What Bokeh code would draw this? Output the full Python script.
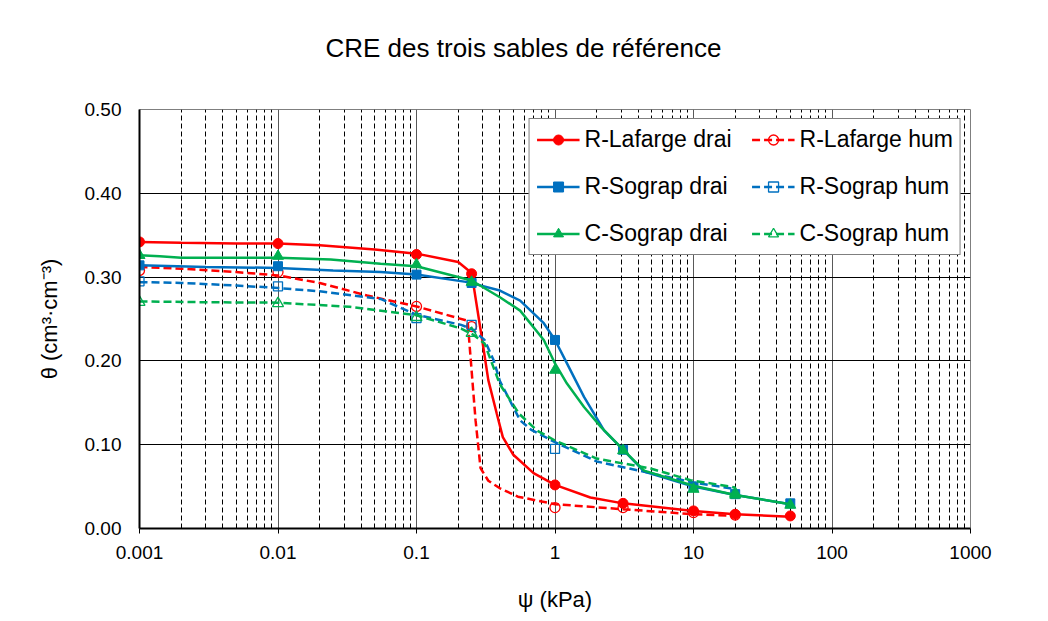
from bokeh.plotting import figure
from bokeh.models import (FixedTicker, CustomJSTickFormatter, PrintfTickFormatter,
                          Legend, LegendItem, Range1d)
from bokeh.embed import file_html
from bokeh.resources import INLINE

FONT = "Liberation Sans"

# ---------------- data ----------------
title_text = "CRE des trois sables de référence"
x_label = "ψ (kPa)"
y_label = "θ (cm³·cm⁻³)"
x_major = [0.001, 0.01, 0.1, 1, 10, 100, 1000]
y_major = [0.0, 0.1, 0.2, 0.3, 0.4, 0.5]

# measured points (markers)
mx_drai = [0.001, 0.01, 0.1, 0.25, 1, 3.1, 10, 20, 50]
laf_drai_m = [0.342, 0.340, 0.327, 0.304, 0.052, 0.030, 0.021, 0.017, 0.015]
sog_drai_m = [0.314, 0.313, 0.303, 0.293, 0.225, 0.094, 0.050, 0.041, 0.030]
csog_drai_m = [0.326, 0.325, 0.315, 0.294, 0.189, 0.093, 0.047, 0.040, 0.028]

laf_hum_mx = [0.001, 0.01, 0.1, 0.25, 1, 3.1, 10, 20]
laf_hum_m = [0.308, 0.306, 0.265, 0.241, 0.025, 0.025, 0.019, 0.016]
sog_hum_mx = [0.001, 0.01, 0.1, 0.25, 1]
sog_hum_m = [0.295, 0.289, 0.251, 0.243, 0.095]
csog_hum_mx = [0.001, 0.01, 0.1, 0.25, 20]
csog_hum_m = [0.270, 0.2685, 0.252, 0.233, 0.042]

# curves
laf_drai_lx = [0.001, 0.002, 0.005, 0.01, 0.02, 0.05, 0.1, 0.2, 0.25, 0.3, 0.33, 0.38, 0.42,
               0.5, 0.7, 1.0, 1.8, 3.1, 10, 20, 50]
laf_drai_ly = [0.342, 0.341, 0.340, 0.340, 0.338, 0.333, 0.328, 0.318, 0.305, 0.222, 0.177, 0.137,
               0.109, 0.088, 0.066, 0.052, 0.037, 0.030, 0.021, 0.017, 0.014]
laf_hum_lx = [0.001, 0.002, 0.005, 0.01, 0.02, 0.044, 0.1, 0.2, 0.234, 0.256, 0.267, 0.29, 0.33,
              0.4, 0.54, 1.0, 3.1, 10, 20]
laf_hum_ly = [0.312, 0.310, 0.306, 0.302, 0.293, 0.278, 0.265, 0.251, 0.248, 0.167, 0.129, 0.072,
              0.057, 0.048, 0.038, 0.029, 0.023, 0.017, 0.015]
sog_drai_lx = [0.001, 0.003, 0.01, 0.025, 0.055, 0.1, 0.234, 0.4, 0.56, 0.83, 1.0, 1.22, 1.62,
               2.26, 3.1, 4.4, 10, 20, 50]
sog_drai_ly = [0.314, 0.312, 0.311, 0.308, 0.306, 0.303, 0.294, 0.284, 0.272, 0.245, 0.225, 0.197,
               0.157, 0.117, 0.094, 0.068, 0.050, 0.040, 0.029]
sog_hum_lx = [0.001, 0.002, 0.005, 0.01, 0.02, 0.055, 0.1, 0.21, 0.25, 0.31, 0.36, 0.40, 0.56,
              0.67, 1.0, 2.0, 4.9, 10, 20]
sog_hum_ly = [0.294, 0.293, 0.290, 0.287, 0.283, 0.274, 0.255, 0.243, 0.238, 0.225, 0.201, 0.176,
              0.129, 0.118, 0.103, 0.080, 0.066, 0.055, 0.047]
csog_drai_lx = [0.001, 0.0014, 0.002, 0.01, 0.024, 0.055, 0.1, 0.25, 0.4, 0.56, 0.83, 1.0, 1.22,
                1.62, 2.15, 3.1, 4.4, 10, 20, 50]
csog_drai_ly = [0.326, 0.325, 0.323, 0.323, 0.321, 0.316, 0.313, 0.296, 0.276, 0.260, 0.225, 0.197,
                0.173, 0.145, 0.121, 0.094, 0.069, 0.051, 0.040, 0.029]
csog_hum_lx = [0.001, 0.003, 0.01, 0.033, 0.1, 0.21, 0.26, 0.31, 0.40, 0.55, 0.74, 1.0, 2.0,
               4.9, 9.5, 20]
csog_hum_ly = [0.271, 0.270, 0.2695, 0.2645, 0.2545, 0.2386, 0.2307, 0.2207, 0.172, 0.137, 0.117,
               0.105, 0.0835, 0.0716, 0.0577, 0.049]

names = ["R-Lafarge drai", "R-Lafarge hum", "R-Sograp drai", "R-Sograp hum",
         "C-Sograp drai", "C-Sograp hum"]

RED, BLUE, GREEN = "#FF0000", "#0070C0", "#00B050"

# ---------------- figure ----------------
p = figure(x_axis_type="log", x_range=Range1d(0.001, 1000), y_range=Range1d(0, 0.5),
           frame_width=831, frame_height=419,
           min_border_left=139, min_border_right=62, min_border_top=109, min_border_bottom=77,
           output_backend="svg", toolbar_location=None,
           background_fill_color="white", border_fill_color="white")
p.outline_line_color = "#7f7f7f"
p.outline_line_width = 1

p.title.text = title_text + "\n"
p.title.align = "left"
p.title.offset = 186
p.title.text_font = FONT
p.title.text_font_size = "26px"
p.title.text_font_style = "normal"
p.title.text_color = "black"
p.title.standoff = 34

x_minor = [m * d for d in x_major[:-1] for m in range(2, 10)]
xt = FixedTicker(ticks=x_major, minor_ticks=x_minor)
p.xaxis.ticker = xt
p.xgrid.ticker = xt
p.xaxis.formatter = CustomJSTickFormatter(
    code="return tick >= 1 ? String(Math.round(tick)) : String(Number(tick.toPrecision(1)));")
yt = FixedTicker(ticks=y_major, minor_ticks=[])
p.yaxis.ticker = yt
p.ygrid.ticker = yt
p.yaxis.formatter = PrintfTickFormatter(format="%.2f")

for ax in (p.xaxis[0], p.yaxis[0]):
    ax.axis_line_color = "black"
    ax.axis_line_width = 2
    ax.major_tick_line_color = "black"
    ax.major_tick_in = 0
    ax.minor_tick_in = 0
    ax.minor_tick_out = 0
    ax.major_label_text_font = FONT
    ax.major_label_text_font_size = "19px"
    ax.major_label_text_color = "black"
    ax.axis_label_text_font = FONT
    ax.axis_label_text_font_size = "22px"
    ax.axis_label_text_font_style = "normal"
    ax.axis_label_text_color = "black"

p.xaxis.major_tick_out = 5
p.xaxis.major_label_standoff = 12
p.xaxis.axis_label = x_label
p.xaxis.axis_label_standoff = 25
p.yaxis.major_tick_out = 0
p.yaxis.major_label_standoff = 18
p.yaxis.axis_label = y_label
p.yaxis.axis_label_standoff = 20

p.xgrid.grid_line_color = "#595959"
p.xgrid.grid_line_width = 1
p.xgrid.minor_grid_line_color = "black"
p.xgrid.minor_grid_line_width = 1
p.xgrid.minor_grid_line_dash = "5 3"
p.ygrid.grid_line_color = "black"
p.ygrid.grid_line_width = 1

# ---------------- series ----------------
def drai(lx, ly, mx, my, color, marker, size):
    l = p.line(lx, ly, line_color=color, line_width=2.5)
    s = p.scatter(mx, my, marker=marker, size=size, fill_color=color, line_color=color)
    return [l, s]

def hum(lx, ly, mx, my, color, marker, size):
    l = p.line(lx, ly, line_color=color, line_width=2.5, line_dash="8 4")
    s = p.scatter(mx, my, marker=marker, size=size, fill_alpha=0, line_color=color,
                  line_width=1.3)
    return [l, s]

r_laf_d = drai(laf_drai_lx, laf_drai_ly, mx_drai, laf_drai_m, RED, "circle", 10)
r_laf_h = hum(laf_hum_lx, laf_hum_ly, laf_hum_mx, laf_hum_m, RED, "circle", 10)
r_sog_d = drai(sog_drai_lx, sog_drai_ly, mx_drai, sog_drai_m, BLUE, "square", 9)
r_sog_h = hum(sog_hum_lx, sog_hum_ly, sog_hum_mx, sog_hum_m, BLUE, "square", 9)
r_cs_d = drai(csog_drai_lx, csog_drai_ly, mx_drai, csog_drai_m, GREEN, "triangle", 11)
r_cs_h = hum(csog_hum_lx, csog_hum_ly, csog_hum_mx, csog_hum_m, GREEN, "triangle", 11)

items = [
    LegendItem(label=names[0], renderers=r_laf_d),
    LegendItem(label=names[2], renderers=r_sog_d),
    LegendItem(label=names[4], renderers=r_cs_d),
    LegendItem(label=names[1], renderers=r_laf_h),
    LegendItem(label=names[3], renderers=r_sog_h),
    LegendItem(label=names[5], renderers=r_cs_h),
]
legend = Legend(items=items, location="top_right", orientation="vertical", ncols=2,
                label_text_font=FONT, label_text_font_size="23px", label_text_color="black",
                glyph_width=43, glyph_height=25, label_height=25, label_standoff=5,
                spacing=20, padding=7, margin=9,
                border_line_color="black", border_line_width=1,
                background_fill_color="white", background_fill_alpha=1)
p.add_layout(legend)

open("out.html", "w").write(file_html(p, INLINE))
